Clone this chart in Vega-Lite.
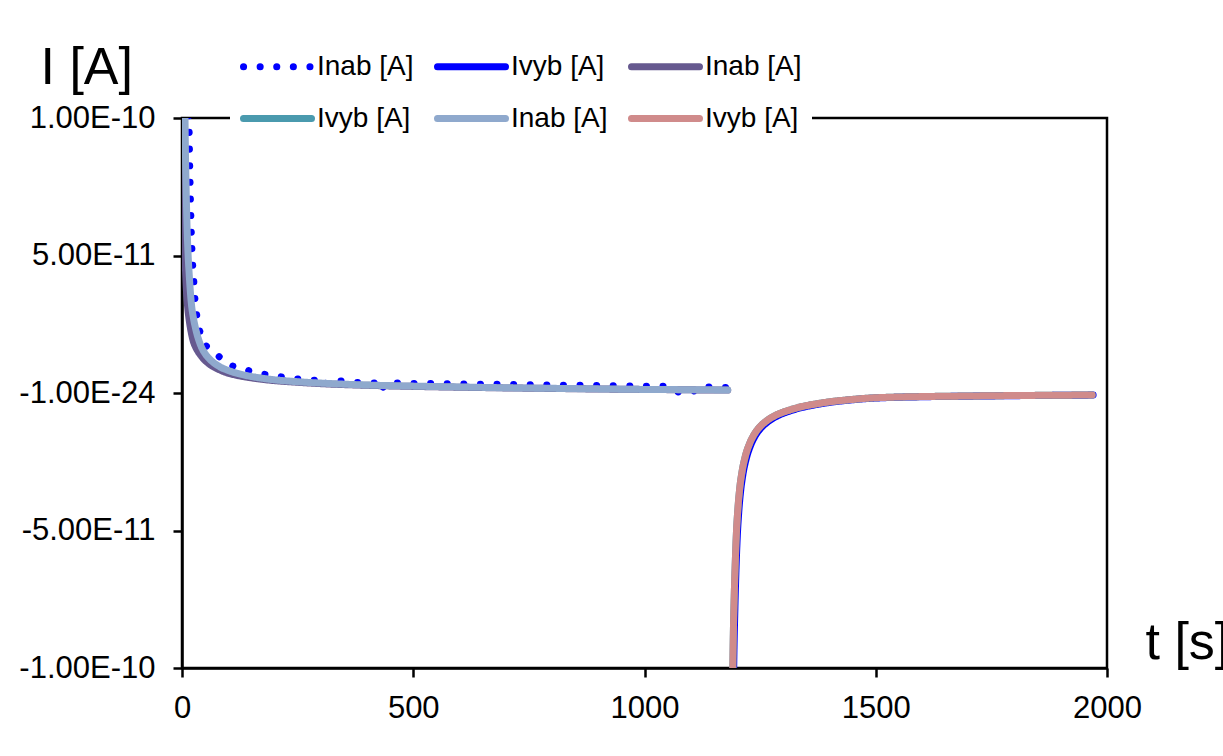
{
  "$schema": "https://vega.github.io/schema/vega-lite/v6.json",
  "autosize": {"type": "none"},
  "padding": {"left": 182, "top": 118, "right": 116, "bottom": 88},
  "width": 925,
  "height": 550,
  "background": "white",
  "config": {
    "view": {"stroke": "black", "strokeWidth": 2.5},
    "font": "Liberation Sans",
    "axis": {
      "labelFont": "Liberation Sans", "labelFontSize": 31, "labelColor": "black",
      "titleFont": "Liberation Sans", "titleFontSize": 52, "titleFontWeight": "normal", "titleColor": "black",
      "domainColor": "black", "domainWidth": 2.5, "tickColor": "black", "tickWidth": 2.5, "tickSize": 9,
      "grid": false, "labelFlush": false, "labelOverlap": false
    },
    "legend": {
      "labelFont": "Liberation Sans", "labelFontSize": 28, "labelColor": "black"
    }
  },
  "data": {
    "values": [
      {"series": "Inab [A] 1", "t": 8, "I": 3e-10},
      {"series": "Inab [A] 1", "t": 11, "I": 1.6e-10},
      {"series": "Inab [A] 1", "t": 13, "I": 1.2e-10},
      {"series": "Inab [A] 1", "t": 15, "I": 1.0e-10},
      {"series": "Inab [A] 1", "t": 17, "I": 8.0e-11},
      {"series": "Inab [A] 1", "t": 19, "I": 6.5e-11},
      {"series": "Inab [A] 1", "t": 22, "I": 5.0e-11},
      {"series": "Inab [A] 1", "t": 25, "I": 4.2e-11},
      {"series": "Inab [A] 1", "t": 28, "I": 3.4e-11},
      {"series": "Inab [A] 1", "t": 35, "I": 2.55e-11},
      {"series": "Inab [A] 1", "t": 45, "I": 1.9e-11},
      {"series": "Inab [A] 1", "t": 60, "I": 1.6e-11},
      {"series": "Inab [A] 1", "t": 82, "I": 1.3e-11},
      {"series": "Inab [A] 1", "t": 104, "I": 1.02e-11},
      {"series": "Inab [A] 1", "t": 125, "I": 9.2e-12},
      {"series": "Inab [A] 1", "t": 147, "I": 8.0e-12},
      {"series": "Inab [A] 1", "t": 175, "I": 6.9e-12},
      {"series": "Inab [A] 1", "t": 197, "I": 6.2e-12},
      {"series": "Inab [A] 1", "t": 218, "I": 5.8e-12},
      {"series": "Inab [A] 1", "t": 249, "I": 5.1e-12},
      {"series": "Inab [A] 1", "t": 283, "I": 4.7e-12},
      {"series": "Inab [A] 1", "t": 295, "I": 4.5e-12},
      {"series": "Inab [A] 1", "t": 305, "I": 2.2e-12},
      {"series": "Inab [A] 1", "t": 315, "I": 4.4e-12},
      {"series": "Inab [A] 1", "t": 335, "I": 4.4e-12},
      {"series": "Inab [A] 1", "t": 363, "I": 4.0e-12},
      {"series": "Inab [A] 1", "t": 400, "I": 3.7e-12},
      {"series": "Inab [A] 1", "t": 420, "I": 3.6e-12},
      {"series": "Inab [A] 1", "t": 430, "I": 6e-13},
      {"series": "Inab [A] 1", "t": 440, "I": 3.6e-12},
      {"series": "Inab [A] 1", "t": 460, "I": 3.6e-12},
      {"series": "Inab [A] 1", "t": 500, "I": 3.5e-12},
      {"series": "Inab [A] 1", "t": 550, "I": 3.4e-12},
      {"series": "Inab [A] 1", "t": 600, "I": 3.3e-12},
      {"series": "Inab [A] 1", "t": 650, "I": 3.2e-12},
      {"series": "Inab [A] 1", "t": 700, "I": 3.1e-12},
      {"series": "Inab [A] 1", "t": 750, "I": 3.0e-12},
      {"series": "Inab [A] 1", "t": 800, "I": 2.9e-12},
      {"series": "Inab [A] 1", "t": 850, "I": 2.8e-12},
      {"series": "Inab [A] 1", "t": 900, "I": 2.7e-12},
      {"series": "Inab [A] 1", "t": 950, "I": 2.6e-12},
      {"series": "Inab [A] 1", "t": 1000, "I": 2.5e-12},
      {"series": "Inab [A] 1", "t": 1050, "I": 2.4e-12},
      {"series": "Inab [A] 1", "t": 1077, "I": 2e-13},
      {"series": "Inab [A] 1", "t": 1090, "I": 1e-13},
      {"series": "Inab [A] 1", "t": 1103, "I": 2e-13},
      {"series": "Inab [A] 1", "t": 1115, "I": 2.2e-12},
      {"series": "Inab [A] 1", "t": 1150, "I": 2.1e-12},
      {"series": "Inab [A] 1", "t": 1180, "I": 2.0e-12},

      {"series": "Ivyb [A] 1", "t": 1186.5, "I": -5e-10},
      {"series": "Ivyb [A] 1", "t": 1189.5, "I": -1.68e-10},
      {"series": "Ivyb [A] 1", "t": 1192.5, "I": -1.05e-10},
      {"series": "Ivyb [A] 1", "t": 1195.5, "I": -7.8e-11},
      {"series": "Ivyb [A] 1", "t": 1197.5, "I": -6.6e-11},
      {"series": "Ivyb [A] 1", "t": 1200.5, "I": -5.25e-11},
      {"series": "Ivyb [A] 1", "t": 1203.5, "I": -4.4e-11},
      {"series": "Ivyb [A] 1", "t": 1207.5, "I": -3.62e-11},
      {"series": "Ivyb [A] 1", "t": 1212.5, "I": -2.99e-11},
      {"series": "Ivyb [A] 1", "t": 1219.5, "I": -2.42e-11},
      {"series": "Ivyb [A] 1", "t": 1229.5, "I": -1.9e-11},
      {"series": "Ivyb [A] 1", "t": 1241.5, "I": -1.5e-11},
      {"series": "Ivyb [A] 1", "t": 1251.5, "I": -1.28e-11},
      {"series": "Ivyb [A] 1", "t": 1266.5, "I": -1.05e-11},
      {"series": "Ivyb [A] 1", "t": 1291.5, "I": -8.0e-12},
      {"series": "Ivyb [A] 1", "t": 1311.5, "I": -6.7e-12},
      {"series": "Ivyb [A] 1", "t": 1337.5, "I": -5.4e-12},
      {"series": "Ivyb [A] 1", "t": 1371.5, "I": -4.2e-12},
      {"series": "Ivyb [A] 1", "t": 1401.5, "I": -3.4e-12},
      {"series": "Ivyb [A] 1", "t": 1441.5, "I": -2.6e-12},
      {"series": "Ivyb [A] 1", "t": 1482.5, "I": -2.0e-12},
      {"series": "Ivyb [A] 1", "t": 1531.5, "I": -1.63e-12},
      {"series": "Ivyb [A] 1", "t": 1601.5, "I": -1.37e-12},
      {"series": "Ivyb [A] 1", "t": 1698.5, "I": -1.16e-12},
      {"series": "Ivyb [A] 1", "t": 1801.5, "I": -9.7e-13},
      {"series": "Ivyb [A] 1", "t": 1901.5, "I": -8.4e-13},
      {"series": "Ivyb [A] 1", "t": 1970, "I": -7.6e-13},

      {"series": "Inab [A] 2", "t": 0, "I": 5e-10},
      {"series": "Inab [A] 2", "t": 0.5, "I": 3.0e-10},
      {"series": "Inab [A] 2", "t": 1, "I": 1.8e-10},
      {"series": "Inab [A] 2", "t": 2, "I": 1.05e-10},
      {"series": "Inab [A] 2", "t": 3, "I": 8.0e-11},
      {"series": "Inab [A] 2", "t": 4, "I": 6.6e-11},
      {"series": "Inab [A] 2", "t": 5, "I": 5.8e-11},
      {"series": "Inab [A] 2", "t": 6.5, "I": 5.0e-11},
      {"series": "Inab [A] 2", "t": 8, "I": 4.3e-11},
      {"series": "Inab [A] 2", "t": 10, "I": 3.6e-11},
      {"series": "Inab [A] 2", "t": 13, "I": 3.0e-11},
      {"series": "Inab [A] 2", "t": 16, "I": 2.6e-11},
      {"series": "Inab [A] 2", "t": 20, "I": 2.2e-11},
      {"series": "Inab [A] 2", "t": 25, "I": 1.85e-11},
      {"series": "Inab [A] 2", "t": 30, "I": 1.65e-11},
      {"series": "Inab [A] 2", "t": 35, "I": 1.5e-11},
      {"series": "Inab [A] 2", "t": 40, "I": 1.38e-11},
      {"series": "Inab [A] 2", "t": 50, "I": 1.18e-11},
      {"series": "Inab [A] 2", "t": 60, "I": 1.04e-11},
      {"series": "Inab [A] 2", "t": 80, "I": 8.5e-12},
      {"series": "Inab [A] 2", "t": 100, "I": 7.2e-12},
      {"series": "Inab [A] 2", "t": 125, "I": 6.2e-12},
      {"series": "Inab [A] 2", "t": 150, "I": 5.5e-12},
      {"series": "Inab [A] 2", "t": 200, "I": 4.5e-12},
      {"series": "Inab [A] 2", "t": 250, "I": 3.9e-12},
      {"series": "Inab [A] 2", "t": 300, "I": 3.4e-12},
      {"series": "Inab [A] 2", "t": 400, "I": 2.8e-12},
      {"series": "Inab [A] 2", "t": 500, "I": 2.4e-12},
      {"series": "Inab [A] 2", "t": 600, "I": 2.1e-12},
      {"series": "Inab [A] 2", "t": 700, "I": 1.85e-12},
      {"series": "Inab [A] 2", "t": 800, "I": 1.65e-12},
      {"series": "Inab [A] 2", "t": 900, "I": 1.45e-12},
      {"series": "Inab [A] 2", "t": 1000, "I": 1.3e-12},
      {"series": "Inab [A] 2", "t": 1100, "I": 1.15e-12},
      {"series": "Inab [A] 2", "t": 1180, "I": 1.05e-12},

      {"series": "Ivyb [A] 2", "t": 1185, "I": -5e-10},
      {"series": "Ivyb [A] 2", "t": 1188, "I": -1.6e-10},
      {"series": "Ivyb [A] 2", "t": 1191, "I": -1.0e-10},
      {"series": "Ivyb [A] 2", "t": 1194, "I": -7.4e-11},
      {"series": "Ivyb [A] 2", "t": 1196, "I": -6.3e-11},
      {"series": "Ivyb [A] 2", "t": 1199, "I": -5.0e-11},
      {"series": "Ivyb [A] 2", "t": 1202, "I": -4.2e-11},
      {"series": "Ivyb [A] 2", "t": 1206, "I": -3.45e-11},
      {"series": "Ivyb [A] 2", "t": 1211, "I": -2.85e-11},
      {"series": "Ivyb [A] 2", "t": 1218, "I": -2.3e-11},
      {"series": "Ivyb [A] 2", "t": 1228, "I": -1.81e-11},
      {"series": "Ivyb [A] 2", "t": 1240, "I": -1.43e-11},
      {"series": "Ivyb [A] 2", "t": 1250, "I": -1.22e-11},
      {"series": "Ivyb [A] 2", "t": 1265, "I": -1.0e-11},
      {"series": "Ivyb [A] 2", "t": 1290, "I": -7.6e-12},
      {"series": "Ivyb [A] 2", "t": 1310, "I": -6.4e-12},
      {"series": "Ivyb [A] 2", "t": 1336, "I": -5.1e-12},
      {"series": "Ivyb [A] 2", "t": 1370, "I": -4.0e-12},
      {"series": "Ivyb [A] 2", "t": 1400, "I": -3.2e-12},
      {"series": "Ivyb [A] 2", "t": 1440, "I": -2.5e-12},
      {"series": "Ivyb [A] 2", "t": 1481, "I": -1.9e-12},
      {"series": "Ivyb [A] 2", "t": 1530, "I": -1.55e-12},
      {"series": "Ivyb [A] 2", "t": 1600, "I": -1.3e-12},
      {"series": "Ivyb [A] 2", "t": 1697, "I": -1.1e-12},
      {"series": "Ivyb [A] 2", "t": 1800, "I": -9.2e-13},
      {"series": "Ivyb [A] 2", "t": 1900, "I": -8e-13},
      {"series": "Ivyb [A] 2", "t": 1968, "I": -7.2e-13},

      {"series": "Inab [A] 3", "t": 0, "I": 8e-10},
      {"series": "Inab [A] 3", "t": 1, "I": 4e-10},
      {"series": "Inab [A] 3", "t": 3, "I": 2.0e-10},
      {"series": "Inab [A] 3", "t": 5, "I": 1.3e-10},
      {"series": "Inab [A] 3", "t": 7, "I": 9.3e-11},
      {"series": "Inab [A] 3", "t": 9, "I": 7.4e-11},
      {"series": "Inab [A] 3", "t": 11, "I": 6.0e-11},
      {"series": "Inab [A] 3", "t": 13, "I": 5.1e-11},
      {"series": "Inab [A] 3", "t": 16, "I": 4.2e-11},
      {"series": "Inab [A] 3", "t": 20, "I": 3.3e-11},
      {"series": "Inab [A] 3", "t": 25, "I": 2.7e-11},
      {"series": "Inab [A] 3", "t": 30, "I": 2.3e-11},
      {"series": "Inab [A] 3", "t": 40, "I": 1.75e-11},
      {"series": "Inab [A] 3", "t": 50, "I": 1.43e-11},
      {"series": "Inab [A] 3", "t": 60, "I": 1.23e-11},
      {"series": "Inab [A] 3", "t": 80, "I": 9.7e-12},
      {"series": "Inab [A] 3", "t": 100, "I": 8.2e-12},
      {"series": "Inab [A] 3", "t": 125, "I": 6.9e-12},
      {"series": "Inab [A] 3", "t": 150, "I": 6.0e-12},
      {"series": "Inab [A] 3", "t": 200, "I": 4.8e-12},
      {"series": "Inab [A] 3", "t": 250, "I": 4.1e-12},
      {"series": "Inab [A] 3", "t": 300, "I": 3.6e-12},
      {"series": "Inab [A] 3", "t": 400, "I": 2.9e-12},
      {"series": "Inab [A] 3", "t": 500, "I": 2.5e-12},
      {"series": "Inab [A] 3", "t": 600, "I": 2.2e-12},
      {"series": "Inab [A] 3", "t": 700, "I": 1.9e-12},
      {"series": "Inab [A] 3", "t": 800, "I": 1.7e-12},
      {"series": "Inab [A] 3", "t": 900, "I": 1.5e-12},
      {"series": "Inab [A] 3", "t": 1000, "I": 1.3e-12},
      {"series": "Inab [A] 3", "t": 1100, "I": 1.2e-12},
      {"series": "Inab [A] 3", "t": 1180, "I": 1.1e-12},

      {"series": "Ivyb [A] 3", "t": 1185, "I": -5e-10},
      {"series": "Ivyb [A] 3", "t": 1188, "I": -1.6e-10},
      {"series": "Ivyb [A] 3", "t": 1191, "I": -1.0e-10},
      {"series": "Ivyb [A] 3", "t": 1194, "I": -7.4e-11},
      {"series": "Ivyb [A] 3", "t": 1196, "I": -6.3e-11},
      {"series": "Ivyb [A] 3", "t": 1199, "I": -5.0e-11},
      {"series": "Ivyb [A] 3", "t": 1202, "I": -4.2e-11},
      {"series": "Ivyb [A] 3", "t": 1206, "I": -3.45e-11},
      {"series": "Ivyb [A] 3", "t": 1211, "I": -2.85e-11},
      {"series": "Ivyb [A] 3", "t": 1218, "I": -2.3e-11},
      {"series": "Ivyb [A] 3", "t": 1228, "I": -1.81e-11},
      {"series": "Ivyb [A] 3", "t": 1240, "I": -1.43e-11},
      {"series": "Ivyb [A] 3", "t": 1250, "I": -1.22e-11},
      {"series": "Ivyb [A] 3", "t": 1265, "I": -1.0e-11},
      {"series": "Ivyb [A] 3", "t": 1290, "I": -7.6e-12},
      {"series": "Ivyb [A] 3", "t": 1310, "I": -6.4e-12},
      {"series": "Ivyb [A] 3", "t": 1336, "I": -5.1e-12},
      {"series": "Ivyb [A] 3", "t": 1370, "I": -4.0e-12},
      {"series": "Ivyb [A] 3", "t": 1400, "I": -3.2e-12},
      {"series": "Ivyb [A] 3", "t": 1440, "I": -2.5e-12},
      {"series": "Ivyb [A] 3", "t": 1481, "I": -1.9e-12},
      {"series": "Ivyb [A] 3", "t": 1530, "I": -1.55e-12},
      {"series": "Ivyb [A] 3", "t": 1600, "I": -1.3e-12},
      {"series": "Ivyb [A] 3", "t": 1697, "I": -1.1e-12},
      {"series": "Ivyb [A] 3", "t": 1800, "I": -9.2e-13},
      {"series": "Ivyb [A] 3", "t": 1900, "I": -8e-13},
      {"series": "Ivyb [A] 3", "t": 1968, "I": -7.2e-13}
    ]
  },
  "mark": {"type": "line", "clip": true, "strokeCap": "round", "strokeJoin": "round", "interpolate": "monotone"},
  "encoding": {
    "x": {
      "field": "t", "type": "quantitative",
      "scale": {"domain": [0, 2000], "nice": false, "zero": false},
      "axis": {
        "values": [0, 500, 1000, 1500, 2000], "format": "d", "labelPadding": 16,
        "title": "t [s]", "titleAngle": 0, "titleAlign": "left", "titleBaseline": "alphabetic",
        "titleX": 963, "titleY": -10
      }
    },
    "y": {
      "field": "I", "type": "quantitative",
      "scale": {"domain": [-1e-10, 1e-10], "nice": false, "zero": false},
      "axis": {
        "values": [-1e-10, -5e-11, -1e-24, 5e-11, 1e-10], "labelPadding": 18,
        "labelExpr": "(datum.value < 0 ? '-' : '') + upper(format(abs(datum.value), '.2e'))",
        "title": "I [A]", "titleAngle": 0, "titleAlign": "left", "titleBaseline": "alphabetic",
        "titleX": -142, "titleY": -35
      }
    },
    "color": {
      "field": "series", "type": "nominal",
      "scale": {
        "domain": ["Inab [A] 1", "Ivyb [A] 1", "Inab [A] 2", "Ivyb [A] 2", "Inab [A] 3", "Ivyb [A] 3"],
        "range": ["#0000FF", "#0000FF", "#66598F", "#4A9AAE", "#8FA9CD", "#D08B8B"]
      },
      "legend": {
        "title": null, "orient": "none", "legendX": 48, "legendY": -99,
        "direction": "horizontal", "columns": 3,
        "symbolType": "stroke", "symbolSize": 4624,
        "labelExpr": "substring(datum.value, 0, 8)", "labelLimit": 300,
        "labelOffset": 2, "columnPadding": 9, "rowPadding": -6, "padding": 10,
        "fillColor": "white",
        "encode": {"symbols": {"update": {"strokeCap": {"value": "round"}}}}
      }
    },
    "strokeDash": {
      "field": "series", "type": "nominal",
      "scale": {
        "domain": ["Inab [A] 1", "Ivyb [A] 1", "Inab [A] 2", "Ivyb [A] 2", "Inab [A] 3", "Ivyb [A] 3"],
        "range": [[0.1, 16.5], [1, 0], [1, 0], [1, 0], [1, 0], [1, 0]]
      }
    },
    "strokeWidth": {
      "field": "series", "type": "nominal",
      "scale": {
        "domain": ["Inab [A] 1", "Ivyb [A] 1", "Inab [A] 2", "Ivyb [A] 2", "Inab [A] 3", "Ivyb [A] 3"],
        "range": [7, 7, 6, 6, 6, 6]
      }
    }
  }
}
